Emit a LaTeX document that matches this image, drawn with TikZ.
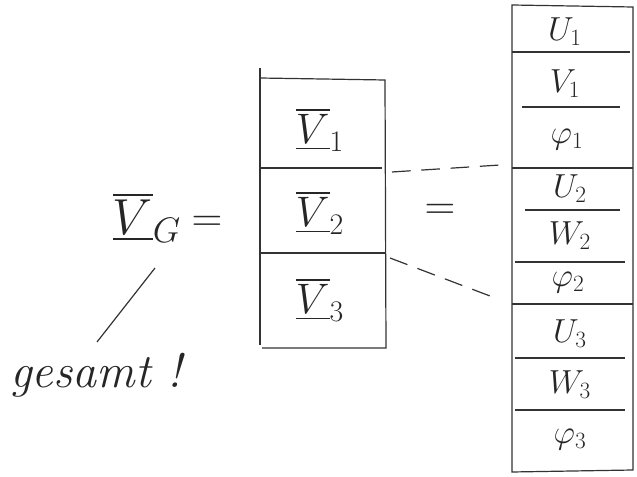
\RequirePackage{fix-cm}
\documentclass[tikz,border=0pt]{standalone}
\usepackage{amsmath}
\begin{document}
\begin{tikzpicture}[x=0.75pt,y=-0.75pt,
  pen/.style={draw=black!80,line width=0.9pt},
  lbl/.style={inner sep=0pt,text=black!85},
  big/.style={lbl,font=\fontsize{38}{40}\selectfont},
  eqs/.style={lbl,font=\fontsize{32}{34}\selectfont},
  mid/.style={lbl,font=\fontsize{32}{34}\selectfont},
  small/.style={lbl,font=\fontsize{25}{27}\selectfont}]
\useasboundingbox (0,0) rectangle (637,477);
% left label
\node[big] (vg) at (147,218) {$\overline{\underline{V}}_{G}$};
\node[eqs] (eq1) at (207,224) {$=$};
\coordinate (gs) at (155,268);
\coordinate (ge) at (97,342);
\draw[pen] (gs) -- (ge);
\node[lbl,font=\fontsize{36}{38}\selectfont\itshape,anchor=base west] (ges) at (10,388) {gesamt !};
% middle box
\draw[pen] (260,68) -- (260,345);
\draw[pen] (260,78) -- (385,80) -- (386,348) -- (262,348);
\draw[pen] (260,168) -- (382,168);
\draw[pen] (260,253) -- (385,253);
\node[mid] (v1) at (320,130) {$\overline{\underline{V}}_{1}$};
\node[mid] (v2) at (320,213) {$\overline{\underline{V}}_{2}$};
\node[mid] (v3) at (320,300) {$\overline{\underline{V}}_{3}$};
\node[eqs] (eq2) at (440,212) {$=$};
% right column
\draw[pen] (512,5) -- (633,7) -- (633,470) -- (512,472) -- cycle;
\draw[pen] (512,52) -- (630,52);
\draw[pen] (522,107) -- (620,107);
\draw[pen] (512,168) -- (633,168);
\draw[pen] (525,210) -- (620,210);
\draw[pen] (515,262) -- (625,262);
\draw[pen] (512,304) -- (633,304);
\draw[pen] (515,358) -- (625,358);
\draw[pen] (515,410) -- (625,410);
\node[small] (u1) at (565,32) {$U_1$};
\node[small] (w1) at (565,84) {$V_1$};
\node[small] (p1) at (567,140) {$\varphi_1$};
\node[small] (u2) at (570,189) {$U_2$};
\node[small] (w2) at (570,236) {$W_2$};
\node[small] (p2) at (568,283) {$\varphi_2$};
\node[small] (u3) at (570,334) {$U_3$};
\node[small] (w3) at (570,385) {$W_3$};
\node[small] (p3) at (570,440) {$\varphi_3$};
% dashed connectors
\coordinate (d1a) at (392,172);
\coordinate (d1b) at (500,165);
\coordinate (d2a) at (390,258);
\coordinate (d2b) at (490,296);
\draw[pen,dash pattern=on 14pt off 8pt] (d1a) -- (d1b);
\draw[pen,dash pattern=on 14pt off 8pt] (d2a) -- (d2b);
\end{tikzpicture}
\end{document}
